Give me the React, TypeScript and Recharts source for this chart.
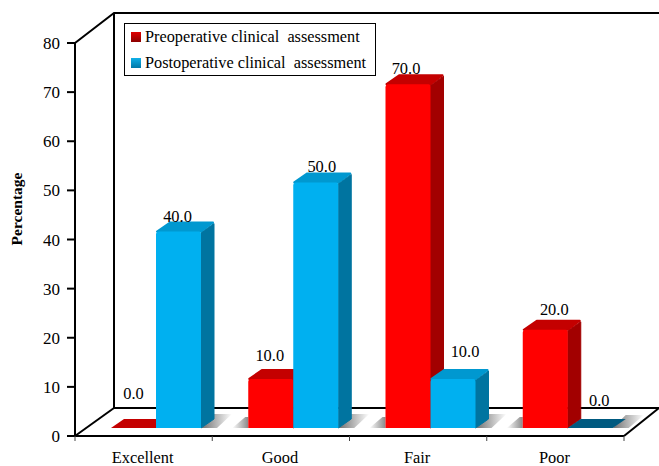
import { BarChart, Bar, XAxis, YAxis, Legend, LabelList } from 'recharts'

const categories = ['Excellent', 'Good', 'Fair', 'Poor']
const preoperative = [0, 10, 70, 20]
const postoperative = [40, 50, 10, 0]
const yTicks = [0, 10, 20, 30, 40, 50, 60, 70, 80]

const PRE_NAME = 'Preoperative clinical  assessment'
const POST_NAME = 'Postoperative clinical  assessment'

// hand placed label nudges, the source chart has them moved around
const preLabelDx = [12, 11, 10, 21]
const preLabelDy = [-42, -31, -23, -28]
const postLabelDx = [11, 18, 24, 21]
const postLabelDy = [-23, -23, -35, -35]

const data = categories.map((name, i) => ({ name, pre: preoperative[i], post: postoperative[i] }))

const W = 659
const H = 466
const LEFT = 75
const TOP = 43
const RIGHT = 624
const BOTTOM = 436
const BAND = (RIGHT - LEFT) / categories.length

const serif = '"Liberation Serif", "Times New Roman", serif'

// the bars stand a bit behind the front edge of the floor
const SHIFT_X = 12
const SHIFT_Y = -8
const DEPTH_X = 13
const DEPTH_Y = -9

const RED = { front: '#ff0000', top: '#c40000', side: '#a20000' }
const BLUE = { front: '#00b0f0', top: '#0098d0', side: '#0074a0' }

function pts(list: number[][]) {
  return list.map((p) => p.join(',')).join(' ')
}

function Box3D(props: any) {
  const { x, y, width: w, height: h, colors, shadow } = props
  const x0 = x + SHIFT_X
  const y0 = y + SHIFT_Y
  const base = y0 + h
  const dx = DEPTH_X
  const dy = DEPTH_Y
  if (h < 1) {
    return (
      <g>
        {shadow === 'right' && (
          <polygon
            points={pts([[x0 + w, base], [x0 + w + dx, base + dy - 4], [x0 + w + dx + 18, base + dy - 4], [x0 + w + 16, base]])}
            fill="url(#shadowRight)"
          />
        )}
        <polygon
          points={pts([[x0, base], [x0 + dx, base + dy], [x0 + w + dx, base + dy], [x0 + w, base]])}
          fill={colors.side === BLUE.side ? '#005a80' : colors.top}
        />
      </g>
    )
  }
  return (
    <g>
      {shadow === 'right' && (
        <polygon
          points={pts([[x0 + w, base], [x0 + w + dx, base + dy - 5], [x0 + w + dx + 18, base + dy - 5], [x0 + w + 16, base]])}
          fill="url(#shadowRight)"
        />
      )}
      {shadow === 'left' && (
        <polygon
          points={pts([[x0 - 16, base], [x0 - 3, base - 11], [x0, base - 11], [x0, base]])}
          fill="url(#shadowLeft)"
        />
      )}
      <polygon
        points={pts([[x0 + w, y0 + 1], [x0 + w + dx, y0 + dy + 1], [x0 + w + dx, base + dy], [x0 + w, base]])}
        fill={colors.side}
        stroke={colors.side}
        strokeWidth={1}
        strokeLinejoin="round"
      />
      <polygon
        points={pts([[x0 + 1, y0], [x0 + dx + 1, y0 + dy], [x0 + w + dx - 1, y0 + dy], [x0 + w, y0]])}
        fill={colors.top}
        stroke={colors.top}
        strokeWidth={2}
        strokeLinejoin="round"
      />
      <path
        d={`M${x0},${base} V${y0 + 3} Q${x0},${y0} ${x0 + 3},${y0} H${x0 + w - 2} Q${x0 + w},${y0} ${x0 + w},${y0 + 3} V${base} Z`}
        fill={colors.front}
      />
    </g>
  )
}

// back wall and floor edges
function Walls() {
  const backX = 114
  const backTop = 13
  const backBottom = 408
  const line = { stroke: '#000', strokeWidth: 2, fill: 'none' }
  return (
    <g>
      <defs>
        <linearGradient id="shadowRight" x1="0" y1="0" x2="1" y2="0">
          <stop offset="0" stopColor="#6e6e6e" />
          <stop offset="1" stopColor="#ffffff" />
        </linearGradient>
        <linearGradient id="shadowLeft" x1="0" y1="0" x2="1" y2="0">
          <stop offset="0" stopColor="#ffffff" />
          <stop offset="1" stopColor="#8a8a8a" />
        </linearGradient>
      </defs>
      <polyline {...line} points={pts([[LEFT, TOP], [backX, backTop], [W, backTop]])} />
      <polyline {...line} points={pts([[backX, backTop], [backX, backBottom], [W, backBottom]])} />
      <line {...line} x1={LEFT} y1={BOTTOM} x2={backX} y2={backBottom} />
      <line {...line} x1={RIGHT} y1={BOTTOM} x2={W} y2={backBottom - 0} />
    </g>
  )
}

function CategoryTick(props: any) {
  const { x, y, payload, index } = props
  const left = x - BAND / 2
  const right = x + BAND / 2
  return (
    <g>
      <line x1={left} y1={BOTTOM} x2={left} y2={BOTTOM + 5} stroke="#444" />
      {index === categories.length - 1 && <line x1={right} y1={BOTTOM} x2={right} y2={BOTTOM + 5} stroke="#444" />}
      <text x={x - 1} y={y + 18.5} textAnchor="middle" fontFamily={serif} fontSize={16.4} fill="#000">
        {payload.value}
      </text>
    </g>
  )
}

function valueLabel(dxList: number[], dyList: number[]) {
  return (props: any) => {
    const { x, y, width, value, index } = props
    return (
      <text
        x={x + width / 2 + dxList[index]}
        y={y + dyList[index] + 5}
        textAnchor="middle"
        fontFamily={serif}
        fontSize={16.4}
        fill="#000"
      >
        {Number(value).toFixed(1)}
      </text>
    )
  }
}

function PercentTitle() {
  return (
    <text
      transform="translate(22, 209) rotate(-90)"
      textAnchor="middle"
      fontFamily={serif}
      fontSize={15.5}
      fontWeight="bold"
      fill="#000"
    >
      Percentage
    </text>
  )
}

function LegendBox() {
  const rows = [
    { name: PRE_NAME, a: '#e00000', b: '#8c0000' },
    { name: POST_NAME, a: '#10b0e8', b: '#0078a8' },
  ]
  return (
    <div
      style={{
        width: 250,
        height: 51,
        border: '1px solid #000',
        background: '#fff',
        fontFamily: serif,
        fontSize: 16.3,
        color: '#000',
        position: 'relative',
      }}
    >
      {rows.map((r, i) => (
        <div key={r.name} style={{ position: 'absolute', left: 6, top: 3 + i * 26, whiteSpace: 'pre', lineHeight: '20px' }}>
          <span
            style={{
              display: 'inline-block',
              width: 10,
              height: 10,
              marginRight: 4,
              background: `linear-gradient(180deg, ${r.a}, ${r.b})`,
            }}
          />
          {r.name}
        </div>
      ))}
    </div>
  )
}

export default function App() {
  return (
    <div style={{ position: 'absolute', left: 0, top: 0, width: W, height: H, background: '#fff', overflow: 'hidden' }}>
      <BarChart
        width={W}
        height={H}
        data={data}
        margin={{ top: TOP, right: W - RIGHT, bottom: 0, left: 15 }}
        barSize={45}
        barGap={0}
      >
        <Walls />
        <XAxis
          dataKey="name"
          height={H - BOTTOM}
          axisLine={{ stroke: '#000', strokeWidth: 2 }}
          tickLine={false}
          tick={<CategoryTick />}
          interval={0}
        />
        <YAxis
          width={LEFT - 15}
          domain={[0, 80]}
          ticks={yTicks}
          interval={0}
          axisLine={{ stroke: '#000', strokeWidth: 2 }}
          tickLine={{ stroke: '#000', strokeWidth: 2 }}
          tickSize={8}
          tickMargin={7}
          tick={{ fontFamily: serif, fontSize: 17, fill: '#000' }}
          label={{ content: <PercentTitle /> }}
        />
        {/* horizontal + middle + center keeps the legend from taking room off the plot */}
        <Legend
          layout="horizontal"
          verticalAlign="middle"
          align="center"
          wrapperStyle={{ position: 'absolute', left: 124, top: 23, width: 252, height: 53 }}
          content={<LegendBox />}
        />
        <Bar
          dataKey="pre"
          name={PRE_NAME}
          isAnimationActive={false}
          shape={(p: any) => <Box3D {...p} colors={RED} shadow="left" />}
        >
          <LabelList dataKey="pre" content={valueLabel(preLabelDx, preLabelDy)} />
        </Bar>
        <Bar
          dataKey="post"
          name={POST_NAME}
          isAnimationActive={false}
          shape={(p: any) => <Box3D {...p} colors={BLUE} shadow="right" />}
        >
          <LabelList dataKey="post" content={valueLabel(postLabelDx, postLabelDy)} />
        </Bar>
      </BarChart>
    </div>
  )
}
